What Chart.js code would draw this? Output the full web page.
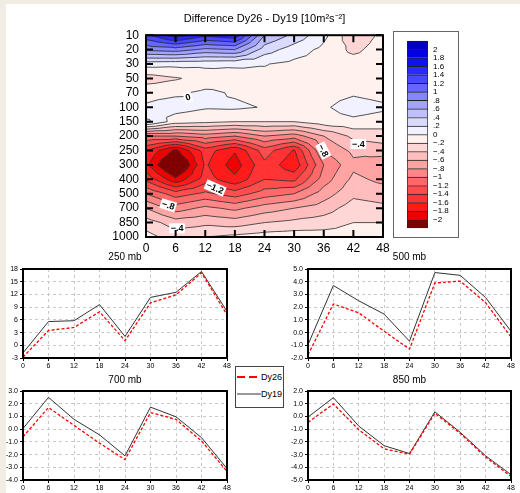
<!DOCTYPE html>
<html lang="en">
<head>
<meta charset="UTF-8">
<title>Difference Dy26 - Dy19</title>
<script src="https://cdn.jsdelivr.net/npm/chart.js"></script>
<style>
  body { margin: 0; background: #f1ede4; font-family: 'Liberation Sans', Arial, sans-serif; }
  #page { position: relative; width: 520px; height: 493px; overflow: hidden; }
  #panel { position: absolute; left: 6px; top: 4px; right: 0; bottom: 0; background: #fff; }
  canvas { position: absolute; }
  #barFrame { position: absolute; left: 393px; top: 31px; width: 64px; height: 205px; border: 1px solid #666; }
  #legend { position: absolute; left: 235px; top: 366px; width: 47px; height: 40px; border: 1px solid #444; background: #fff; }
</style>
</head>
<body>
<div id="page">
  <div id="panel"></div>
  <div id="barFrame"></div>
  <canvas id="contour" width="300" height="258" style="left:100px; top:0px"></canvas>
  <canvas id="colorbar" width="65" height="207" style="left:393px; top:31px"></canvas>
  <canvas id="c250" width="245" height="130" style="left:0px; top:245px"></canvas>
  <canvas id="c500" width="235" height="130" style="left:285px; top:245px"></canvas>
  <canvas id="c700" width="245" height="125" style="left:0px; top:368px"></canvas>
  <canvas id="c850" width="235" height="125" style="left:285px; top:368px"></canvas>
  <div id="legend">
    <svg width="47" height="40">
      <line x1="1" y1="10" x2="25" y2="10" stroke="#ff0000" stroke-width="2" stroke-dasharray="8,4"></line>
      <text x="25" y="13" font-size="9" font-family="Liberation Sans, Arial">Dy26</text>
      <line x1="1" y1="27" x2="25" y2="27" stroke="#333" stroke-width="1"></line>
      <text x="25" y="30" font-size="9" font-family="Liberation Sans, Arial">Dy19</text>
    </svg>
  </div>
</div>
<script>
  const hours = [0, 6, 12, 18, 24, 30, 36, 42, 48]
  const pressureLevels = ['10', '20', '30', '50', '70', '100', '150', '200', '250', '300', '400', '500', '700', '850', '1000']

  // Dy26 - Dy19, one row per pressure level (10 mb first), one column per hour
  const diffGrid = [
    [1.35, 1.7, 1.45, 1.55, 0.6, 0.35, 0.05, -0.35, -0.15],
    [0.85, 0.9, 0.75, 0.8, 0.3, 0.1, -0.05, -0.25, -0.1],
    [0.08, 0.06, 0.05, 0.03, 0.01, -0.05, -0.08, -0.1, -0.08],
    [-0.3, -0.22, -0.12, -0.08, -0.05, -0.08, -0.1, -0.08, -0.08],
    [-0.05, -0.03, 0.04, -0.02, -0.06, -0.08, -0.08, -0.03, -0.08],
    [0.02, 0.08, 0.02, 0.03, -0.01, -0.06, -0.03, 0.1, 0.04],
    [0.25, -0.1, -0.15, -0.2, -0.2, -0.2, -0.08, -0.05, -0.1],
    [-1.0, -1.0, -0.9, -1.0, -0.8, -0.9, -0.6, -0.35, -0.3],
    [-1.6, -2.05, -1.5, -1.78, -1.3, -1.62, -0.79, -0.55, -0.5],
    [-1.75, -2.4, -1.57, -1.9, -1.45, -1.75, -1.0, -0.65, -0.75],
    [-1.45, -1.95, -1.5, -1.75, -1.4, -1.45, -0.9, -0.55, -0.65],
    [-1.0, -1.3, -1.15, -1.3, -1.1, -1.0, -0.7, -0.45, -0.5],
    [-0.6, -0.9, -0.75, -0.85, -0.7, -0.6, -0.5, -0.3, -0.35],
    [-0.3, -0.5, -0.45, -0.5, -0.4, -0.35, -0.3, -0.2, -0.2],
    [-0.12, -0.3, -0.2, -0.15, -0.1, -0.08, -0.1, -0.1, -0.05]
  ]

  const contourLevels = [-2, -1.8, -1.6, -1.4, -1.2, -1, -0.8, -0.6, -0.4, -0.2, 0, 0.2, 0.4, 0.6, 0.8, 1, 1.2, 1.4, 1.6, 1.8, 2]

  const dy26_250 = [-2.8, 3.5, 4.2, 7.9, 1.1, 10.0, 11.9, 17.1, 7.2]
  const dy19_250 = [-1.8, 5.6, 5.8, 9.6, 2.1, 11.3, 12.5, 17.4, 8.0]
  const dy26_500 = [-1.75, 2.25, 1.55, 0.1, -1.3, 3.9, 4.05, 2.35, -0.35]
  const dy19_500 = [-0.95, 3.7, 2.5, 1.45, -0.68, 4.72, 4.5, 2.75, 0.1]
  const dy26_700 = [-0.6, 1.7, 0.3, -1.1, -2.4, 1.3, 0.77, -0.93, -3.32]
  const dy19_700 = [0.05, 2.5, 0.77, -0.45, -2.1, 1.73, 0.97, -0.67, -3.1]
  const dy26_850 = [-0.47, 0.98, -1.05, -2.55, -2.97, 0.25, -1.33, -3.2, -4.72]
  const dy19_850 = [-0.05, 1.48, -0.76, -2.3, -2.92, 0.36, -1.25, -3.1, -4.58]

  // colours of the 22 shading intervals, lowest first
  const bandColors = [
    '#7f0000', '#ee0000', '#ff1a1a', '#ff3333', '#ff4d4d', '#ff6868',
    '#ff8686', '#ffa3a3', '#ffbdbd', '#ffd6d6', '#fff1ee',
    '#f1f1ff', '#dadaff', '#c0c0ff', '#a3a3ff', '#8585ff',
    '#6565ff', '#4848ff', '#2a2aff', '#1010f5', '#0000e0', '#0000c0'
  ]

  const levelLabels = contourLevels.map(v => (v < 0 ? '\u2212' : '') + String(Math.abs(v)).replace(/^0\./, '.'))

  // labels written on the contour lines
  const contourLabels = [
    { hour: 8.5, level: 4.3, text: '0', angle: -0.3 },
    { hour: 14, level: 10.6, text: '\u22121.2', angle: 0.4 },
    { hour: 4.5, level: 11.8, text: '\u2212.8', angle: 0.3 },
    { hour: 6.3, level: 13.4, text: '\u2212.4', angle: 0 },
    { hour: 35.9, level: 8.0, text: '\u2212.8', angle: 1.1 },
    { hour: 43, level: 7.55, text: '\u2212.4', angle: 0 }
  ]

  Chart.defaults.font.family = "'Liberation Sans', Arial, sans-serif"
  Chart.defaults.color = '#000'
  Chart.defaults.animation = false

  function clipPoly(poly, t, above) {
    const out = []
    const inside = p => above ? p.v >= t : p.v <= t
    for (let i = 0; i < poly.length; i++) {
      const a = poly[i], b = poly[(i + 1) % poly.length]
      const ia = inside(a), ib = inside(b)
      if (ia) out.push(a)
      if (ia !== ib) {
        const f = (t - a.v) / (b.v - a.v)
        out.push({ px: a.px + f * (b.px - a.px), py: a.py + f * (b.py - a.py), v: t })
      }
    }
    return out
  }

  const contourPlugin = {
    id: 'contour',
    beforeDatasetsDraw(chart) {
      const { ctx, chartArea: a } = chart
      const xs = chart.scales.x, ys = chart.scales.y
      const pt = (r, c) => ({ px: xs.getPixelForValue(hours[c]), py: ys.getPixelForValue(r), v: diffGrid[r][c] })
      const tris = []
      for (let r = 0; r < pressureLevels.length - 1; r++) {
        for (let c = 0; c < hours.length - 1; c++) {
          const q = [pt(r, c), pt(r, c + 1), pt(r + 1, c + 1), pt(r + 1, c)]
          const m = { px: (q[0].px + q[2].px) / 2, py: (q[0].py + q[2].py) / 2, v: (q[0].v + q[1].v + q[2].v + q[3].v) / 4 }
          for (let k = 0; k < 4; k++) tris.push([q[k], q[(k + 1) % 4], m])
        }
      }
      const bounds = [-Infinity, ...contourLevels, Infinity]
      ctx.save()
      ctx.beginPath()
      ctx.rect(a.left, a.top, a.width, a.height)
      ctx.clip()
      ctx.lineJoin = 'round'
      tris.forEach(tri => {
        for (let k = 0; k < bandColors.length; k++) {
          let poly = tri
          if (bounds[k] > -Infinity) poly = clipPoly(poly, bounds[k], true)
          if (poly.length && bounds[k + 1] < Infinity) poly = clipPoly(poly, bounds[k + 1], false)
          if (poly.length < 3) continue
          ctx.beginPath()
          poly.forEach((p, i) => i ? ctx.lineTo(p.px, p.py) : ctx.moveTo(p.px, p.py))
          ctx.closePath()
          ctx.fillStyle = bandColors[k]
          ctx.strokeStyle = bandColors[k]
          ctx.lineWidth = 0.8
          ctx.fill()
          ctx.stroke()
        }
      })
      // contour lines
      ctx.strokeStyle = '#2a2a2a'
      ctx.lineWidth = 0.8
      ctx.beginPath()
      contourLevels.forEach(L => tris.forEach(tri => {
        const s = tri.map(p => (p.v - L) || 1e-9)
        const cut = []
        for (let i = 0; i < 3; i++) {
          const j = (i + 1) % 3
          if ((s[i] > 0) !== (s[j] > 0)) {
            const f = s[i] / (s[i] - s[j])
            cut.push([tri[i].px + f * (tri[j].px - tri[i].px), tri[i].py + f * (tri[j].py - tri[i].py)])
          }
        }
        if (cut.length === 2) {
          ctx.moveTo(cut[0][0], cut[0][1])
          ctx.lineTo(cut[1][0], cut[1][1])
        }
      }))
      ctx.stroke()
      // labels on the lines
      ctx.font = "bold 9px 'Liberation Sans', Arial"
      ctx.textAlign = 'center'
      ctx.textBaseline = 'middle'
      contourLabels.forEach(l => {
        ctx.save()
        ctx.translate(xs.getPixelForValue(l.hour), ys.getPixelForValue(l.level))
        ctx.rotate(l.angle)
        const w = ctx.measureText(l.text).width
        ctx.fillStyle = '#fff'
        ctx.fillRect(-w / 2 - 1.5, -5, w + 3, 10)
        ctx.fillStyle = '#000'
        ctx.fillText(l.text, 0, 0.5)
        ctx.restore()
      })
      ctx.restore()
    },
    afterDraw(chart) {
      const { ctx, chartArea: a } = chart
      const xs = chart.scales.x, ys = chart.scales.y
      ctx.save()
      ctx.strokeStyle = '#000'
      ctx.lineWidth = 2
      ctx.beginPath()
      ys.ticks.forEach(t => {
        const py = ys.getPixelForValue(t.value)
        ctx.moveTo(a.left, py); ctx.lineTo(a.left + 7, py)
        ctx.moveTo(a.right - 7, py); ctx.lineTo(a.right, py)
      })
      xs.ticks.forEach(t => {
        const px = xs.getPixelForValue(t.value)
        ctx.moveTo(px, a.bottom); ctx.lineTo(px, a.bottom - 7)
        ctx.moveTo(px, a.top); ctx.lineTo(px, a.top + 7)
      })
      ctx.stroke()
      ctx.strokeRect(a.left, a.top, a.width, a.height)
      ctx.restore()
    }
  }

  new Chart(document.getElementById('contour'), {
    type: 'scatter',
    data: { datasets: [] },
    options: {
      responsive: false,
      devicePixelRatio: 1,
      layout: { padding: { right: 17 } },
      plugins: {
        legend: { display: false },
        tooltip: { enabled: false },
        title: {
          display: true, fullSize: false,
          text: 'Difference Dy26 - Dy19 [10m\u00b2s\u207b\u00b2]',
          font: { size: 11, weight: 'normal' },
          padding: { top: 12, bottom: 10 }
        }
      },
      scales: {
        x: {
          type: 'linear', min: 0, max: 48,
          grid: { display: false, drawTicks: false },
          border: { display: false },
          ticks: { stepSize: 6, font: { size: 12 }, padding: 4, maxRotation: 0 },
          afterFit: s => { s.height = 21 }
        },
        y: {
          type: 'linear', reverse: true, min: 0, max: pressureLevels.length - 1,
          grid: { display: false, drawTicks: false },
          border: { display: false },
          ticks: { stepSize: 1, autoSkip: false, font: { size: 12 }, padding: 7, callback: v => pressureLevels[v] },
          afterFit: s => { s.width = 46 }
        }
      }
    },
    plugins: [contourPlugin]
  })

  new Chart(document.getElementById('colorbar'), {
    type: 'bar',
    data: {
      labels: [''],
      datasets: bandColors.map((c, i) => ({
        data: [1],
        backgroundColor: c,
        borderColor: '#222',
        borderWidth: { top: 1, left: 1, right: 1, bottom: i ? 0 : 1 },
        borderSkipped: false,
        barPercentage: 1,
        categoryPercentage: 1
      }))
    },
    options: {
      responsive: false,
      devicePixelRatio: 1,
      layout: { padding: { left: 14, top: 7, bottom: 6 } },
      plugins: { legend: { display: false }, tooltip: { enabled: false } },
      scales: {
        x: { display: false, stacked: true },
        y: {
          stacked: true, position: 'right', min: 0, max: bandColors.length,
          grid: { display: false, drawTicks: false },
          border: { display: false },
          ticks: {
            stepSize: 1, autoSkip: false, padding: 5, font: { size: 8 },
            callback: v => (v >= 1 && v <= contourLevels.length) ? levelLabels[v - 1] : ''
          },
          afterFit: s => { s.width = 30 }
        }
      }
    }
  })

  const framePlugin = {
    id: 'frame',
    afterDraw(chart) {
      const { ctx, chartArea: a } = chart
      ctx.save()
      ctx.strokeStyle = '#000'
      ctx.lineWidth = 2
      ctx.strokeRect(a.left, a.top, a.width, a.height)
      ctx.restore()
    }
  }

  function lineChart(id, title, dy26, dy19, yMin, yMax, yStep, digits, pad, titlePad, xHeight) {
    new Chart(document.getElementById(id), {
      type: 'line',
      data: {
        labels: hours,
        datasets: [
          { label: 'Dy26', data: dy26, borderColor: '#ff0000', borderWidth: 1.3, borderDash: [3, 2], pointRadius: 0, tension: 0 },
          { label: 'Dy19', data: dy19, borderColor: '#333333', borderWidth: 1, pointRadius: 0, tension: 0 }
        ]
      },
      options: {
        responsive: false,
        devicePixelRatio: 1,
        layout: { padding: { right: pad } },
        plugins: {
          legend: { display: false },
          tooltip: { enabled: false },
          title: { display: true, fullSize: false, text: title, font: { size: 10, weight: 'normal' }, padding: titlePad }
        },
        scales: {
          x: {
            grid: { color: '#c8c8c8', tickColor: '#000', tickLength: 3 },
            border: { display: false, dash: [3, 3] },
            ticks: { font: { size: 7 }, padding: 1, maxRotation: 0, autoSkip: false },
            afterFit: s => { s.height = xHeight }
          },
          y: {
            min: yMin, max: yMax,
            grid: { color: '#c8c8c8', tickColor: '#000', tickLength: 3 },
            border: { display: false, dash: [3, 3] },
            ticks: { stepSize: yStep, font: { size: 7 }, padding: 2, callback: v => v.toFixed(digits) },
            afterFit: s => { s.width = 23 }
          }
        }
      },
      plugins: [framePlugin]
    })
  }

  lineChart('c250', '250 mb', dy26_250, dy19_250, -3, 18, 3, 0, 18, { top: 6, bottom: 6 }, 17)
  lineChart('c500', '500 mb', dy26_500, dy19_500, -2, 5, 1, 1, 9, { top: 6, bottom: 6 }, 17)
  lineChart('c700', '700 mb', dy26_700, dy19_700, -4, 3, 1, 1, 18, { top: 6, bottom: 5 }, 13)
  lineChart('c850', '850 mb', dy26_850, dy19_850, -5, 2, 1, 1, 9, { top: 6, bottom: 5 }, 13)
</script>
</body>
</html>
